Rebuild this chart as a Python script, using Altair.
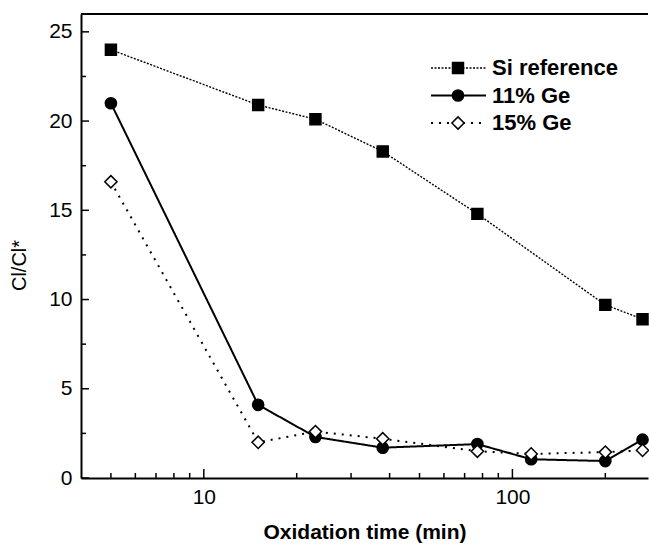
import altair as alt
import pandas as pd

# Cl/Cl* ratio versus oxidation time for the three samples
series = ["Si reference", "11% Ge", "15% Ge"]

si_time = [5, 15, 23, 38, 77, 200, 264]
si_ratio = [24.0, 20.9, 20.1, 18.3, 14.8, 9.7, 8.9]

ge_time = [5, 15, 23, 38, 77, 115, 200, 264]
ge11_ratio = [21.0, 4.1, 2.3, 1.7, 1.9, 1.05, 0.95, 2.15]
ge15_ratio = [16.6, 2.0, 2.6, 2.2, 1.5, 1.35, 1.45, 1.55]

# tick positions (drawn inward)
x_major = [10, 100]
x_minor = [5, 6, 7, 8, 9, 20, 30, 40, 50, 60, 70, 80, 90, 200]
y_major = [0, 5, 10, 15, 20, 25]
y_minor = [2.5, 7.5, 12.5, 17.5, 22.5]

FONT = "Liberation Sans"
W, H = 567, 464

df = pd.concat([
    pd.DataFrame({"time": si_time, "ratio": si_ratio, "series": series[0]}),
    pd.DataFrame({"time": ge_time, "ratio": ge11_ratio, "series": series[1]}),
    pd.DataFrame({"time": ge_time, "ratio": ge15_ratio, "series": series[2]}),
])

x_scale = alt.Scale(type="log", domain=[4, 275], nice=False)
y_scale = alt.Scale(domain=[0, 26], nice=False, zero=False)

x_axis = alt.Axis(
    values=x_major, format="d", title="Oxidation time (min)", ticks=False,
    grid=False, domainColor="black", domainWidth=2, labelFont=FONT,
    labelFontSize=21, labelColor="black", labelPadding=8, labelFlush=False,
    titleFont=FONT, titleFontSize=21, titleFontWeight="bold",
    titleColor="black", titlePadding=14,
)
y_axis = alt.Axis(
    values=y_major, title="Cl/Cl*", ticks=False, grid=False,
    domainColor="black", domainWidth=2, labelFont=FONT, labelFontSize=21,
    labelColor="black", labelPadding=9, titleFont=FONT, titleFontSize=20,
    titleFontWeight="normal", titleColor="black", titlePadding=19,
    titleY=251,
)

X = alt.X("time:Q", scale=x_scale, axis=x_axis)
Y = alt.Y("ratio:Q", scale=y_scale, axis=y_axis)

styles = {
    "Si reference": dict(dash=[2, 1.5], width=1.4, shape="square", filled=True, size=120),
    "11% Ge": dict(dash=[1, 0], width=2, shape="circle", filled=True, size=125),
    "15% Ge": dict(dash=[2, 6], width=2, shape="diamond", filled=False, size=150),
}

layers = []

# inward tick marks
layers.append(alt.Chart(pd.DataFrame({"time": x_major})).mark_rule(
    color="black", strokeWidth=1.5).encode(x=X, y=alt.value(H), y2=alt.value(H - 9)))
layers.append(alt.Chart(pd.DataFrame({"time": x_minor})).mark_rule(
    color="black", strokeWidth=1.5).encode(x=X, y=alt.value(H), y2=alt.value(H - 5)))
layers.append(alt.Chart(pd.DataFrame({"ratio": y_major})).mark_rule(
    color="black", strokeWidth=1.5).encode(y=Y, x=alt.value(0), x2=alt.value(8)))
layers.append(alt.Chart(pd.DataFrame({"ratio": y_minor})).mark_rule(
    color="black", strokeWidth=1.5).encode(y=Y, x=alt.value(0), x2=alt.value(5)))

# top frame line
frame = pd.DataFrame({"k": [0]})
layers.append(alt.Chart(frame).mark_rule(color="black", strokeWidth=2).encode(
    x=alt.value(0), x2=alt.value(W), y=alt.value(0)))

# data lines then markers
for name in series:
    st = styles[name]
    sub = alt.Chart(df).transform_filter(alt.datum.series == name)
    layers.append(sub.mark_line(color="black", strokeWidth=st["width"],
                                strokeDash=st["dash"]).encode(x=X, y=Y))
for name in series:
    st = styles[name]
    sub = alt.Chart(df).transform_filter(alt.datum.series == name)
    layers.append(sub.mark_point(
        shape=st["shape"], size=st["size"], filled=True,
        fill="black" if st["filled"] else "white", stroke="black",
        strokeWidth=1.5, opacity=1).encode(x=X, y=Y))

# legend block in the upper right
LEG_Y0, LEG_STEP = 54, 27.5
LINE_X0, LINE_X1, MARK_X, TEXT_X = 350, 405, 377, 411
for i, name in enumerate(series):
    st = styles[name]
    ly = LEG_Y0 + i * LEG_STEP
    layers.append(alt.Chart(frame).mark_rule(
        color="black", strokeWidth=st["width"], strokeDash=st["dash"]).encode(
        x=alt.value(LINE_X0), x2=alt.value(LINE_X1), y=alt.value(ly)))
    layers.append(alt.Chart(frame).mark_point(
        shape=st["shape"], size=st["size"], filled=True,
        fill="black" if st["filled"] else "white", stroke="black",
        strokeWidth=1.5, opacity=1).encode(x=alt.value(MARK_X), y=alt.value(ly)))
    layers.append(alt.Chart(frame).mark_text(
        text=name, align="left", baseline="middle", font=FONT, fontSize=22,
        fontWeight="bold", color="black").encode(
        x=alt.value(TEXT_X), y=alt.value(ly)))

chart = alt.layer(*layers).properties(
    width=W, height=H,
    autosize=alt.AutoSizeParams(type="none"),
    padding={"left": 81, "top": 14, "right": 1, "bottom": 67},
    background="white",
).configure_view(stroke=None)

chart.save("out.html", embed_options={"renderer": "svg", "actions": False})
